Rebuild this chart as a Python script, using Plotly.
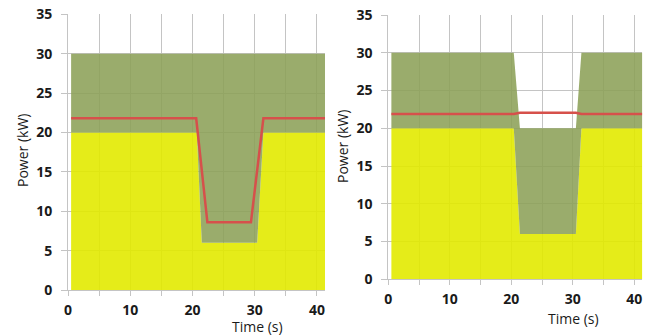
import plotly.graph_objects as go

# ---- data ----
# Left panel
left_low_t = [0.5, 20.7, 21.5, 30.4, 31.4, 41.3]
left_low_p = [20, 20, 6, 6, 20, 20]
left_up_t = [0.5, 41.3]
left_up_p = [30, 30]
left_red_t = [0.5, 20.6, 22.4, 29.4, 31.4, 41.3]
left_red_p = [21.8, 21.8, 8.6, 8.6, 21.8, 21.8]

# Right panel
right_low_t = [0.5, 20.4, 21.4, 30.5, 31.4, 41.3]
right_low_p = [20, 20, 6, 6, 20, 20]
right_up_t = [0.5, 20.4, 21.4, 30.5, 31.4, 41.3]
right_up_p = [30, 30, 20, 20, 30, 30]
right_red_t = [0.5, 20.4, 21.4, 30.5, 31.4, 41.3]
right_red_p = [21.9, 21.9, 22.05, 22.05, 21.9, 21.9]

x_tickvals = [0, 5, 10, 15, 20, 25, 30, 35, 40]
x_ticktext = ["0", "", "10", "", "20", "", "30", "", "40"]
y_tickvals = [0, 5, 10, 15, 20, 25, 30, 35]
y_ticktext = ["0", "5", "10", "15", "20", "25", "30", "35"]

YELLOW = "rgba(226,234,0,0.9)"
GREEN = "rgba(140,161,88,0.88)"
RED = "#D6504B"

fig = go.Figure()


def add_panel(xa, ya, lt, lp, ut, up, rt, rp):
    fig.add_trace(go.Scatter(x=lt, y=lp, mode="lines", line=dict(width=0, color=YELLOW),
                             fill="tozeroy", fillcolor=YELLOW, xaxis=xa, yaxis=ya,
                             showlegend=False, hoverinfo="skip"))
    fig.add_trace(go.Scatter(x=ut, y=up, mode="lines", line=dict(width=0, color=GREEN),
                             fill="tonexty", fillcolor=GREEN, xaxis=xa, yaxis=ya,
                             showlegend=False, hoverinfo="skip"))
    fig.add_trace(go.Scatter(x=rt, y=rp, mode="lines", line=dict(width=2.5, color=RED),
                             xaxis=xa, yaxis=ya, showlegend=False, hoverinfo="skip"))


add_panel("x", "y", left_low_t, left_low_p, left_up_t, left_up_p, left_red_t, left_red_p)
add_panel("x2", "y2", right_low_t, right_low_p, right_up_t, right_up_p, right_red_t, right_red_p)

W, H = 654, 336
tickfont = dict(family="Open Sans", size=14, color="#1a1a1a")
GRID = "#c4c4c4"


def bold(labels):
    return ["<b>%s</b>" % s if s else "" for s in labels]


xcommon = dict(range=[0, 41.3], tickvals=x_tickvals, ticktext=bold(x_ticktext), showgrid=True,
               gridcolor=GRID, gridwidth=1, zeroline=False, showline=True, linecolor=GRID,
               ticks="outside", ticklen=5, tickcolor=GRID, tickfont=tickfont,
               ticklabelstandoff=2, fixedrange=True, automargin=False)
ycommon = dict(range=[0, 35], tickvals=y_tickvals, ticktext=bold(y_ticktext), showgrid=True,
               gridcolor=GRID, gridwidth=1, zeroline=False, showline=True, linecolor=GRID,
               ticks="outside", ticklen=6, tickcolor=GRID, tickfont=tickfont,
               ticklabelstandoff=6, fixedrange=True, automargin=False)

fig.update_layout(
    width=W, height=H,
    margin=dict(l=0, r=0, t=0, b=0),
    paper_bgcolor="white", plot_bgcolor="white",
    xaxis=dict(domain=[68 / W, 325 / W], anchor="y", **xcommon),
    yaxis=dict(domain=[1 - 290 / H, 1 - 14.3 / H], anchor="x", **ycommon),
    xaxis2=dict(domain=[388.3 / W, 642.3 / W], anchor="y2", **xcommon),
    yaxis2=dict(domain=[1 - 279.3 / H, 1 - 15 / H], anchor="x2", **ycommon),
)

tfont = dict(family="Open Sans", size=14, color="#1a1a1a")
ann = [
    dict(text="Time (s)", x=257 / W, y=1 - 326 / H),
    dict(text="Time (s)", x=573 / W, y=1 - 318 / H),
    dict(text="Power (kW)", x=22 / W, y=1 - 150 / H, textangle=-90),
    dict(text="Power (kW)", x=342 / W, y=1 - 147 / H, textangle=-90),
]
for a in ann:
    fig.add_annotation(xref="paper", yref="paper", xanchor="center", yanchor="middle",
                       showarrow=False, font=tfont, **a)

fig.write_html("out.html")
